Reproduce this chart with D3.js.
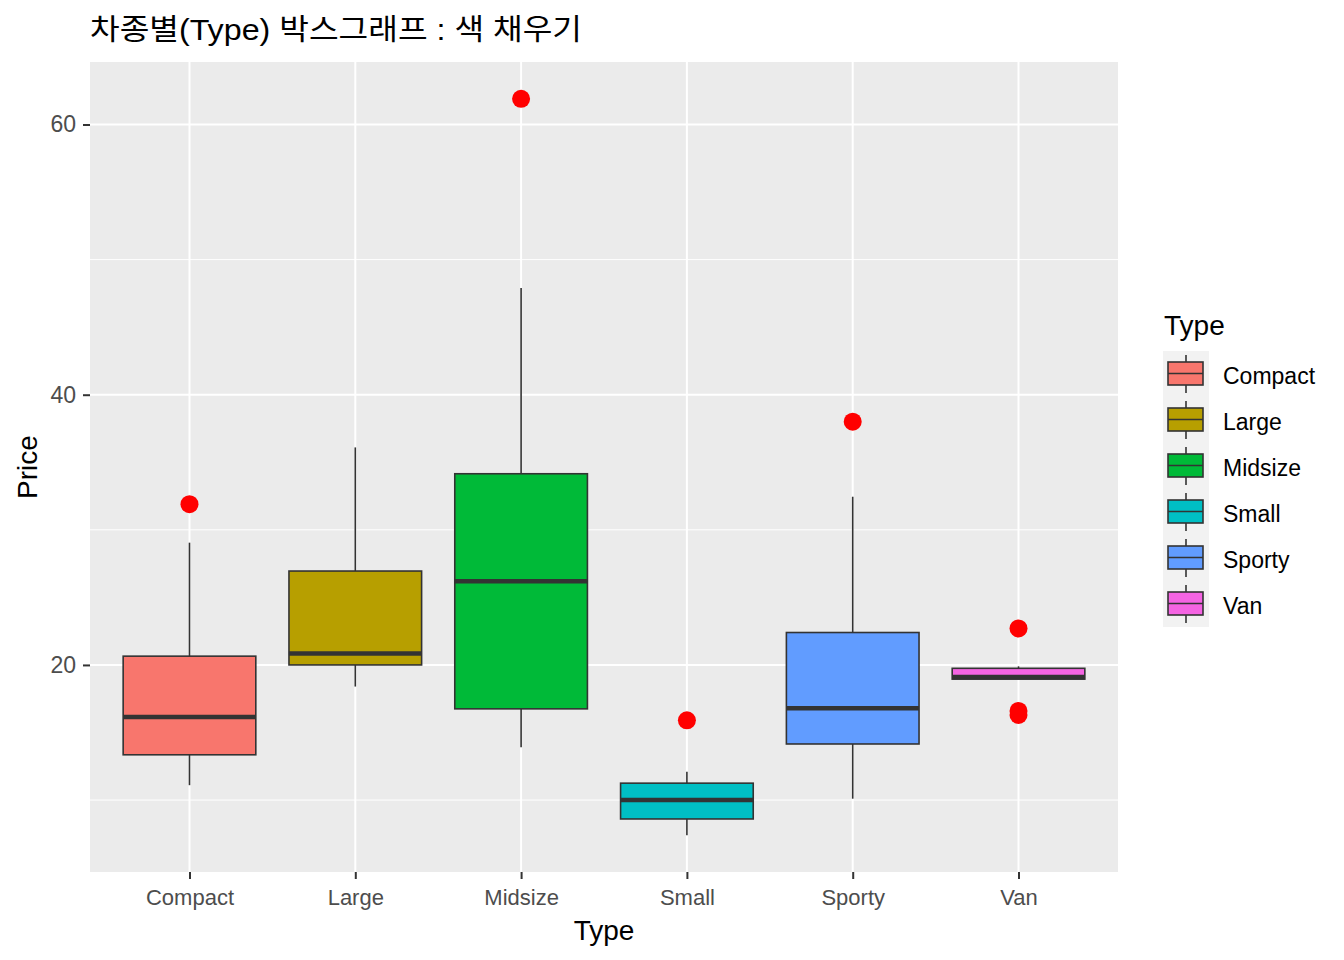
<!DOCTYPE html>
<html>
<head>
<meta charset="utf-8">
<script src="https://cdn.jsdelivr.net/npm/d3@7"></script>
<style>
  body { margin: 0; background: #fff; }
  text { font-family: "Liberation Sans", Arial, "Noto Sans CJK KR", sans-serif; }
</style>
</head>
<body>
<div id="chart"></div>
<script>
// box stats (Price by Type)
const types = ['Compact', 'Large', 'Midsize', 'Small', 'Sporty', 'Van']
const lowerWhisker = [11.1, 18.4, 13.9, 7.4, 10.1, 19.0]
const q1 = [13.35, 20.0, 16.75, 8.6, 14.15, 18.95]
const median = [16.15, 20.85, 26.2, 10.0, 16.8, 19.1]
const q3 = [20.65, 26.95, 34.15, 11.25, 22.4, 19.75]
const upperWhisker = [29.05, 36.1, 47.9, 12.1, 32.45, 19.9]
const outliers = [[31.9], [], [61.9], [15.9], [38.0], [22.7, 16.6, 16.3]]
const fills = ['#F8766D', '#B79F00', '#00BA38', '#00BFC4', '#619CFF', '#F564E3']
const yTicks = [20, 40, 60]
const yMinor = [10, 30, 50]

const W = 1344, H = 960
const panel = {left: 90, right: 1118, top: 62, bottom: 872}

const svg = d3.select('#chart').append('svg')
  .attr('width', W).attr('height', H)

const x = d3.scalePoint()
  .domain(types)
  .range([panel.left, panel.right])
  .padding(0.6)
const step = x.step()
const boxW = step * 0.8

const allVals = lowerWhisker.concat(upperWhisker, outliers.flat())
const lo = d3.min(allVals), hi = d3.max(allVals)
const pad = (hi - lo) * 0.05
const y = d3.scaleLinear()
  .domain([lo - pad, hi + pad])
  .range([panel.bottom, panel.top])

// panel background + grid
svg.append('rect')
  .attr('x', panel.left).attr('y', panel.top)
  .attr('width', panel.right - panel.left)
  .attr('height', panel.bottom - panel.top)
  .attr('fill', '#EBEBEB')

svg.append('g').selectAll('line').data(yMinor).join('line')
  .attr('x1', panel.left).attr('x2', panel.right)
  .attr('y1', d => y(d)).attr('y2', d => y(d))
  .attr('stroke', '#fff').attr('stroke-width', 1)

svg.append('g').selectAll('line').data(yTicks).join('line')
  .attr('x1', panel.left).attr('x2', panel.right)
  .attr('y1', d => y(d)).attr('y2', d => y(d))
  .attr('stroke', '#fff').attr('stroke-width', 2)

svg.append('g').selectAll('line').data(types).join('line')
  .attr('x1', d => x(d)).attr('x2', d => x(d))
  .attr('y1', panel.top).attr('y2', panel.bottom)
  .attr('stroke', '#fff').attr('stroke-width', 2)

// boxes
const stroke = '#333333'
const boxes = svg.append('g').selectAll('g').data(types).join('g')

boxes.append('line')
  .attr('x1', d => x(d)).attr('x2', d => x(d))
  .attr('y1', (d, i) => y(upperWhisker[i])).attr('y2', (d, i) => y(q3[i]))
  .attr('stroke', stroke).attr('stroke-width', 1.6)

boxes.append('line')
  .attr('x1', d => x(d)).attr('x2', d => x(d))
  .attr('y1', (d, i) => y(q1[i])).attr('y2', (d, i) => y(lowerWhisker[i]))
  .attr('stroke', stroke).attr('stroke-width', 1.6)

boxes.append('rect')
  .attr('x', d => x(d) - boxW / 2)
  .attr('width', boxW)
  .attr('y', (d, i) => y(q3[i]))
  .attr('height', (d, i) => y(q1[i]) - y(q3[i]))
  .attr('fill', (d, i) => fills[i])
  .attr('stroke', stroke).attr('stroke-width', 1.6)

boxes.append('line')
  .attr('x1', d => x(d) - boxW / 2).attr('x2', d => x(d) + boxW / 2)
  .attr('y1', (d, i) => y(median[i])).attr('y2', (d, i) => y(median[i]))
  .attr('stroke', stroke).attr('stroke-width', 4.5)

boxes.selectAll('circle').data((d, i) => outliers[i].map(v => ({t: d, v})))
  .join('circle')
  .attr('cx', d => x(d.t)).attr('cy', d => y(d.v))
  .attr('r', 9).attr('fill', '#FF0000')

// axes
const yAxis = svg.append('g')
  .attr('transform', 'translate(' + panel.left + ',0)')
  .call(d3.axisLeft(y).tickValues(yTicks).tickSize(7).tickPadding(7))
yAxis.select('.domain').remove()
yAxis.selectAll('line').attr('stroke', stroke).attr('stroke-width', 2)
yAxis.selectAll('text').attr('fill', '#4D4D4D').attr('font-size', 23)
  .attr('font-family', '"Liberation Sans", Arial, sans-serif')

const xAxis = svg.append('g')
  .attr('transform', 'translate(0,' + panel.bottom + ')')
  .call(d3.axisBottom(x).tickSize(7).tickPadding(10))
xAxis.select('.domain').remove()
xAxis.selectAll('line').attr('stroke', stroke).attr('stroke-width', 2)
xAxis.selectAll('text').attr('fill', '#4D4D4D').attr('font-size', 22)
  .attr('font-family', '"Liberation Sans", Arial, sans-serif')

svg.append('text')
  .attr('x', (panel.left + panel.right) / 2).attr('y', 940)
  .attr('text-anchor', 'middle').attr('font-size', 28)
  .text('Type')

svg.append('text')
  .attr('transform', 'translate(37,' + ((panel.top + panel.bottom) / 2) + ') rotate(-90)')
  .attr('text-anchor', 'middle').attr('font-size', 28)
  .text('Price')

svg.append('text')
  .attr('x', panel.left).attr('y', 40)
  .attr('font-size', 29)
  .attr('textLength', 492)
  .attr('lengthAdjust', 'spacingAndGlyphs')
  .text('차종별(Type) 박스그래프 : 색 채우기')

// legend
const legX = 1163, legY = 351, keyH = 46, keyW = 46
const legend = svg.append('g')
legend.append('text')
  .attr('x', legX + 1).attr('y', 335)
  .attr('font-size', 28)
  .text('Type')

const keys = legend.selectAll('g').data(types).join('g')
  .attr('transform', (d, i) => 'translate(' + legX + ',' + (legY + i * keyH) + ')')

keys.append('rect')
  .attr('width', keyW).attr('height', keyH)
  .attr('fill', '#F2F2F2')
keys.append('line')
  .attr('x1', keyW / 2).attr('x2', keyW / 2)
  .attr('y1', 4).attr('y2', keyH - 4)
  .attr('stroke', stroke).attr('stroke-width', 1.6)
keys.append('rect')
  .attr('x', 5).attr('y', 11)
  .attr('width', 35).attr('height', 23)
  .attr('fill', (d, i) => fills[i])
  .attr('stroke', stroke).attr('stroke-width', 1.6)
keys.append('line')
  .attr('x1', 5).attr('x2', 40)
  .attr('y1', 22.5).attr('y2', 22.5)
  .attr('stroke', stroke).attr('stroke-width', 1.6)
keys.append('text')
  .attr('x', 60).attr('y', keyH / 2 + 2)
  .attr('dy', '0.35em')
  .attr('font-size', 23)
  .text(d => d)
</script>
</body>
</html>
